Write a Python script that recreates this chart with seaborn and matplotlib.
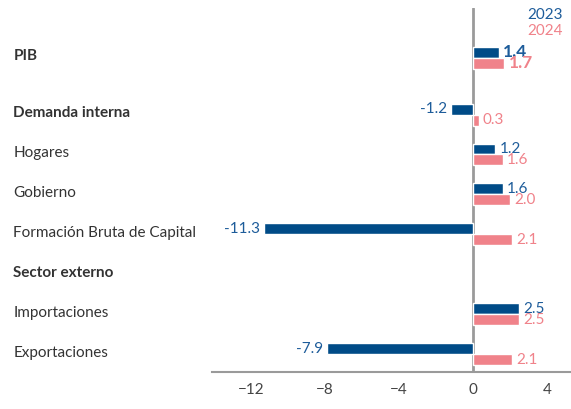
import numpy as np
import pandas as pd
import seaborn as sns
import matplotlib.pyplot as plt
from matplotlib import transforms

# Data
categories = ["PIB", "Demanda interna", "Hogares", "Gobierno",
              "Formación Bruta de Capital", "Sector externo",
              "Importaciones", "Exportaciones"]
bold_rows = ["PIB", "Demanda interna", "Sector externo"]
values_2023 = [1.4, -1.2, 1.2, 1.6, -11.3, np.nan, 2.5, -7.9]
values_2024 = [1.7, 0.3, 1.6, 2.0, 2.1, np.nan, 2.5, 2.1]
years = ["2023", "2024"]
xticks = [-12, -8, -4, 0, 4]

bar_colors = {"2023": "#004B87", "2024": "#F0828A"}
text_colors = {"2023": "#1D5C9A", "2024": "#F0828A"}

# row positions, with a bit of extra room below PIB
pos = np.arange(len(categories), dtype=float)
pos[1:] += 0.42

df = pd.DataFrame({
    "pos": np.concatenate([pos, pos]),
    "year": [years[0]] * len(categories) + [years[1]] * len(categories),
    "value": values_2023 + values_2024,
}).dropna()

sns.set_style("white")
plt.rcParams["font.family"] = ["Lato", "DejaVu Sans"]

fig = plt.figure(figsize=(5.71, 4.09), dpi=100)
ax = fig.add_axes([212 / 571, 37 / 409, 359 / 571, 364 / 409])

sns.barplot(data=df, x="value", y="pos", hue="year", hue_order=years,
            orient="y", native_scale=True, width=0.55,
            palette=bar_colors, saturation=1, errorbar=None, legend=False, ax=ax)

ax.set_xlim(-261 / 18.5, 98 / 18.5)
ax.set_ylim(7.87, -1.25)
ax.axvline(0, color="#9a9a9a", lw=2, zorder=0)

# value labels
for cont, yr in zip(ax.containers, years):
    labels = ax.bar_label(cont, fmt="%.1f", padding=3, color=text_colors[yr], fontsize=11)
    for bar, lab in zip(cont, labels):
        if abs(bar.get_y() + bar.get_height() / 2 - pos[0]) < 0.4:
            lab.set_fontweight("bold")
            lab.set_fontsize(12.5)

# category labels, left aligned at the figure edge, nudged up a little
ax.set_yticks(pos, categories)
ax.tick_params(axis="y", length=0, pad=143, labelsize=11, labelcolor="#333333")
shift = transforms.ScaledTranslation(0, 3 / 100, fig.dpi_scale_trans)
for lab in ax.get_yticklabels():
    lab.set_ha("left")
    lab.set_transform(lab.get_transform() + shift)
    if lab.get_text() in bold_rows:
        lab.set_fontweight("bold")

ax.set_xticks(xticks)
ax.tick_params(axis="x", length=0, pad=8, labelsize=11, labelcolor="#444444")
ax.set_xlabel("")
ax.set_ylabel("")

for side in ["top", "right", "left"]:
    ax.spines[side].set_visible(False)
ax.spines["bottom"].set_color("#9a9a9a")
ax.spines["bottom"].set_linewidth(1.5)

fig.text(0.986, 0.964, "2023", color=text_colors["2023"], fontsize=11, ha="right", va="center")
fig.text(0.986, 0.925, "2024", color=text_colors["2024"], fontsize=11, ha="right", va="center")

fig.savefig("out.png", dpi=100)
